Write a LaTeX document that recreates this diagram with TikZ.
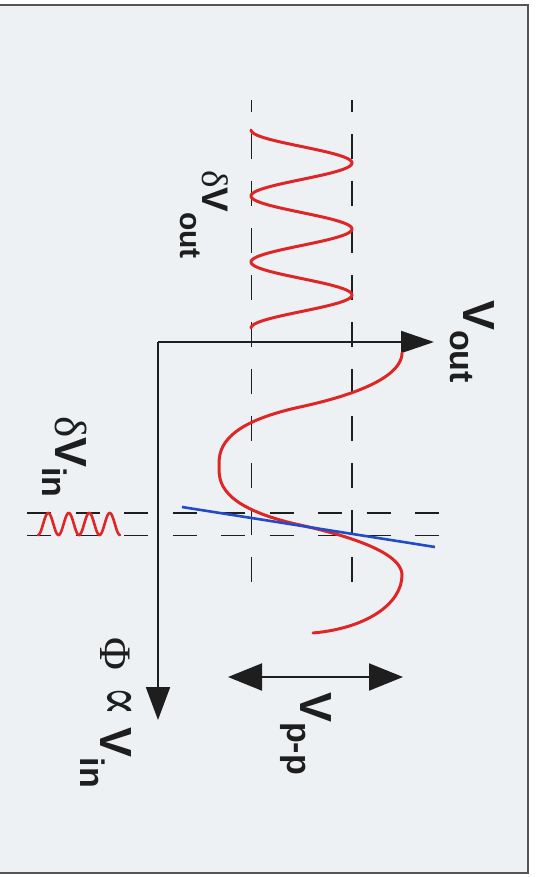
\documentclass[tikz,border=0pt]{standalone}
\usepackage{fontspec}
\setmainfont{Liberation Sans}
\newfontfamily\grk{Liberation Serif}
\newfontfamily\symf{DejaVu Serif}
\usetikzlibrary{arrows.meta}
\definecolor{bgc}{RGB}{237,241,243}
\definecolor{framec}{RGB}{85,85,85}
\definecolor{ink}{RGB}{30,30,30}
\definecolor{cred}{RGB}{222,38,38}
\definecolor{cblue}{RGB}{35,75,200}
\newcommand\subtxt[3][13pt]{\raisebox{-#1}{\fontsize{#2}{#2}\selectfont #3}}
\tikzset{
  lbl/.style={rotate=-90, anchor=base west, inner sep=0pt, text=ink,
    font=\bfseries\fontsize{45}{45}\selectfont},
  smalllbl/.style={lbl, font=\bfseries\fontsize{37}{37}\selectfont},
  axisline/.style={draw=ink, line width=2pt},
  dashline/.style={draw=ink, line width=1.8pt},
  redcurve/.style={draw=cred, line width=3pt, line cap=round},
  bluecurve/.style={draw=cblue, line width=2.6pt},
}
\begin{document}
\begin{tikzpicture}[x=1pt,y=-1pt]
\useasboundingbox (0,0) rectangle (538,877);
\fill[white] (0,0) rectangle (538,877);
\fill[bgc] (0,5) rectangle (528,873);
\draw[framec, line width=2.5pt] (0,5) -- (528,5) -- (528,873) -- (0,873);

% coordinates
\coordinate (O) at (158,342);
\coordinate (voutend) at (434,342);
\coordinate (phiend) at (158,720);
\coordinate (vl1) at (251.5,100);
\coordinate (vl2) at (251.5,590);
\coordinate (vr1) at (352,100);
\coordinate (vr2) at (352,590);
\coordinate (ht1) at (27,513);
\coordinate (ht2) at (440,513);
\coordinate (hb1) at (27,535.5);
\coordinate (hb2) at (440,535.5);
\coordinate (bl1) at (182,507);
\coordinate (bl2) at (435,547);
\coordinate (pp1) at (228,677);
\coordinate (pp2) at (403,677);
\coordinate (c0) at (402,353);
\coordinate (c1) at (300,407);
\coordinate (c2) at (219,467);
\coordinate (c3) at (300,525);
\coordinate (c4) at (402,575);
\coordinate (c5) at (313,633);

% dashed guide lines
\draw[dashline, dash pattern=on 25pt off 22pt, dash phase=13pt] (vl1) -- (vl2);
\draw[dashline, dash pattern=on 25pt off 22pt, dash phase=13pt] (vr1) -- (vr2);
\draw[dashline, dash pattern=on 24pt off 24.5pt] (ht1) -- (ht2);
\draw[dashline, dash pattern=on 24pt off 24.5pt] (hb1) -- (hb2);

% axes
\draw[axisline, -{Triangle[length=33pt,width=22pt]}] (O) -- (voutend);
\draw[axisline, -{Triangle[length=33pt,width=24pt]}] (O) -- (phiend);

% transfer curve
\draw[redcurve] (c0) .. controls (402,368) and (382.8,389) .. (c1)
  .. controls (217.2,425) and (219,453) .. (c2)
  .. controls (219,481) and (219,507) .. (c3)
  .. controls (381,543) and (402,561) .. (c4)
  .. controls (402,603) and (368,628) .. (c5);

% output oscillation
\draw[redcurve] plot[domain=130:328, samples=200, variable=\s]
  ({301.5-50.5*cos((\s-130)/66*360)}, {\s});

% input oscillation
\draw[redcurve, line width=2.6pt] plot[domain=38:120, samples=160, variable=\s]
  ({\s}, {524+11*cos((\s-38)/20.5*360)});

% tangent line
\draw[bluecurve] (bl1) -- (bl2);

% peak-to-peak arrow
\draw[axisline, {Triangle[length=34pt,width=27pt]}-{Triangle[length=34pt,width=27pt]}] (pp1) -- (pp2);

% labels
\node[lbl] (vout) at (463,300) {V\subtxt{34}{out}};
\node[smalllbl] (dvout) at (202,170) {{\grk\mdseries δ}V\subtxt[22pt]{30}{out}};
\node[lbl] (dvin) at (55,416) {{\grk\mdseries δ}V\subtxt{34}{in}};
\node[lbl] (phi) at (100,637) {{\grk\mdseries Φ}\hspace{16pt}{\symf\mdseries\fontsize{44}{44}\selectfont\scalebox{1}[1.45]{∝}}\hspace{12pt}V\subtxt[20pt]{34}{in}};
\node[lbl] (vpp) at (300,692) {V\subtxt{34}{p-p}};
\end{tikzpicture}
\end{document}
